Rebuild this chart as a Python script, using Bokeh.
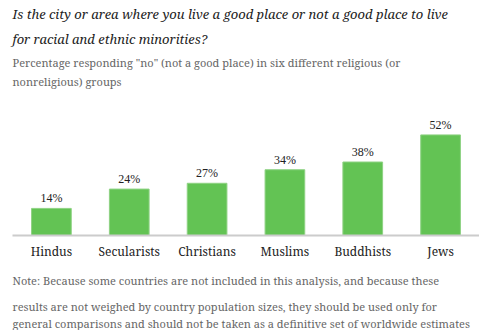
from bokeh.plotting import figure
from bokeh.models import ColumnDataSource, LabelSet, Title, Range1d
from bokeh.embed import file_html
from bokeh.resources import INLINE

groups = ["Hindus", "Secularists", "Christians", "Muslims", "Buddhists", "Jews"]
values = [14, 24, 27, 34, 38, 52]
value_labels = ["14%", "24%", "27%", "34%", "38%", "52%"]

title_lines = [
    "Is the city or area where you live a good place or not a good place to live",
    "for racial and ethnic minorities?",
]
subtitle_lines = [
    "Percentage responding \"no\" (not a good place) in six different religious (or",
    "nonreligious) groups",
]
note_lines = [
    "Note: Because some countries are not included in this analysis, and because these",
    "results are not weighed by country population sizes, they should be used only for",
    "general comparisons and should not be taken as a definitive set of worldwide estimates",
]

FONT = "Noto Serif"

src = ColumnDataSource(dict(g=groups, v=values, lab=value_labels))

p = figure(width=479, height=330, x_range=groups, y_range=Range1d(0, 76),
           output_backend="svg", toolbar_location=None,
           min_border_left=12, min_border_right=0, min_border_top=0, min_border_bottom=6)
p.outline_line_color = None
p.xgrid.visible = False
p.ygrid.visible = False
p.yaxis.visible = False
p.x_range.range_padding = 0.0

p.vbar(x="g", top="v", width=0.51, source=src, fill_color="#63c354",
       line_color="#8ed283", line_width=1)

p.add_layout(LabelSet(x="g", y="v", text="lab", source=src, text_align="center",
                      text_baseline="bottom", y_offset=3, text_font=FONT,
                      text_font_size="12px", text_color="#222222"))

ax = p.xaxis[0]
ax.axis_line_color = "#cccccc"
ax.axis_line_width = 2
ax.major_tick_line_color = None
ax.minor_tick_line_color = None
ax.major_tick_out = 0
ax.major_tick_in = 0
ax.minor_tick_out = 0
ax.major_label_text_font = FONT
ax.major_label_text_font_size = "12px"
ax.major_label_text_color = "#222222"
ax.major_label_standoff = 7

sub_standoffs = [4, 0]
for line, so in reversed(list(zip(subtitle_lines, sub_standoffs))):
    p.add_layout(Title(text=line, text_font=FONT, text_font_size="11px",
                       text_font_style="normal", text_color="#666666",
                       align="left", standoff=so), "above")
for line in reversed(title_lines):
    p.add_layout(Title(text=line, text_font=FONT, text_font_size="13px",
                       text_font_style="italic", text_color="#222222",
                       align="left", standoff=5), "above")
note_standoffs = [17, 0, 0]
for line, so in zip(note_lines, note_standoffs):
    p.add_layout(Title(text=line, text_font=FONT, text_font_size="11px",
                       text_font_style="normal", text_color="#666666",
                       align="left", standoff=so), "below")

open("out.html", "w").write(file_html(p, INLINE))
